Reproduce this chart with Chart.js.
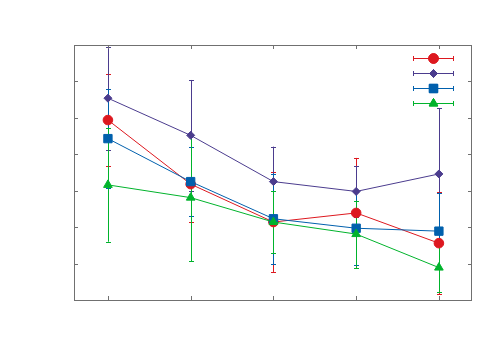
<!DOCTYPE html>
<html>
<head>
<meta charset="utf-8">
<script src="https://cdn.jsdelivr.net/npm/chart.js@4/dist/chart.umd.min.js"></script>
<style>
  html, body { margin: 0; padding: 0; background: #fff; }
  canvas { display: block; }
</style>
</head>
<body>
<canvas id="grafico" width="500" height="350"></canvas>
<script>
// --- DATOS ---
const categorias = [1, 2, 3, 4, 5];
const ticksY = [1, 2, 3, 4, 5, 6];

const rojo = [4.94, 3.18, 2.14, 2.39, 1.56];
const rojoErr = [1.26, 1.03, 1.37, 1.51, 1.40];
const morado = [5.54, 4.52, 3.25, 2.98, 3.46];
const moradoErr = [1.41, 1.52, 0.96, 0.69, 1.80];
const azul = [4.43, 3.25, 2.23, 1.97, 1.89];
const azulErr = [1.35, 0.95, 1.24, 1.00, 1.04];
const verde = [3.16, 2.81, 2.14, 1.81, 0.89];
const verdeErr = [1.56, 1.74, 0.85, 0.92, 0.66];

const series = [
    { valores: rojo, errores: rojoErr, color: '#dd181f', punto: 'circle', radio: 4.8 },
    { valores: morado, errores: moradoErr, color: '#4b3c8e', punto: 'rectRot', radio: 4 },
    { valores: azul, errores: azulErr, color: '#0060ad', punto: 'rect', radio: 5.9 },
    { valores: verde, errores: verdeErr, color: '#00b32c', punto: 'triangle', radio: 5 }
];

// --- PLUGINS ---
const barrasError = {
    id: 'barrasError',
    beforeDatasetsDraw(chart) {
        const ctx = chart.ctx;
        const { x, y } = chart.scales;
        const area = chart.chartArea;
        ctx.save();
        ctx.beginPath();
        ctx.rect(area.left, area.top, area.right - area.left, area.bottom - area.top);
        ctx.clip();
        ctx.lineWidth = 1;
        series.forEach(s => {
            ctx.strokeStyle = s.color;
            s.valores.forEach((v, i) => {
                const px = Math.round(x.getPixelForValue(categorias[i])) + 0.5;
                const y1 = y.getPixelForValue(v + s.errores[i]);
                const y2 = y.getPixelForValue(v - s.errores[i]);
                ctx.beginPath();
                ctx.moveTo(px, y1); ctx.lineTo(px, y2);
                ctx.moveTo(px - 2.5, Math.round(y1) + 0.5); ctx.lineTo(px + 2.5, Math.round(y1) + 0.5);
                ctx.moveTo(px - 2.5, Math.round(y2) + 0.5); ctx.lineTo(px + 2.5, Math.round(y2) + 0.5);
                ctx.stroke();
            });
        });
        ctx.restore();
    }
};

const marco = {
    id: 'marco',
    afterDraw(chart) {
        const ctx = chart.ctx;
        const { x, y } = chart.scales;
        const a = chart.chartArea;
        ctx.save();
        ctx.strokeStyle = '#707070';
        ctx.lineWidth = 1;
        ctx.strokeRect(a.left + 0.5, a.top + 0.5, a.right - a.left - 1, a.bottom - a.top);
        ctx.beginPath();
        categorias.forEach(c => {
            const px = Math.round(x.getPixelForValue(c)) + 0.5;
            ctx.moveTo(px, a.bottom); ctx.lineTo(px, a.bottom - 4);
            ctx.moveTo(px, a.top); ctx.lineTo(px, a.top + 4);
        });
        ticksY.forEach(t => {
            const py = Math.round(y.getPixelForValue(t)) + 0.5;
            ctx.moveTo(a.left, py); ctx.lineTo(a.left + 4, py);
            ctx.moveTo(a.right, py); ctx.lineTo(a.right - 4, py);
        });
        ctx.stroke();

        // leyenda sin texto
        series.forEach((s, i) => {
            const ly = 58 + i * 15 + 0.5;
            ctx.strokeStyle = s.color;
            ctx.beginPath();
            ctx.moveTo(413, ly); ctx.lineTo(454, ly);
            ctx.moveTo(413.5, ly - 2.5); ctx.lineTo(413.5, ly + 2.5);
            ctx.moveTo(453.5, ly - 2.5); ctx.lineTo(453.5, ly + 2.5);
            ctx.stroke();
            ctx.fillStyle = s.color;
            Chart.helpers.drawPoint(ctx, { pointStyle: s.punto, radius: s.radio, borderWidth: 1, rotation: 0 }, 433.5, ly);
            ctx.fill();
            ctx.stroke();
        });
        ctx.restore();
    }
};

// --- GRAFICO ---
const datasets = series.map((s, i) => ({
    data: s.valores.map((v, j) => ({ x: categorias[j], y: v })),
    borderColor: s.color,
    backgroundColor: s.color,
    borderWidth: 1,
    pointStyle: s.punto,
    pointRadius: s.radio,
    pointBorderWidth: 1,
    pointBackgroundColor: s.color,
    pointBorderColor: s.color,
    tension: 0,
    order: series.length - i
}));

new Chart(document.getElementById('grafico'), {
    type: 'line',
    data: { datasets },
    options: {
        responsive: false,
        animation: false,
        layout: { padding: { left: 74, top: 45, right: 28, bottom: 50 } },
        plugins: { legend: { display: false }, tooltip: { enabled: false } },
        scales: {
            x: { type: 'linear', min: 0.59, max: 5.4, display: false },
            y: { min: 0, max: 7, display: false }
        }
    },
    plugins: [barrasError, marco]
});
</script>
</body>
</html>
